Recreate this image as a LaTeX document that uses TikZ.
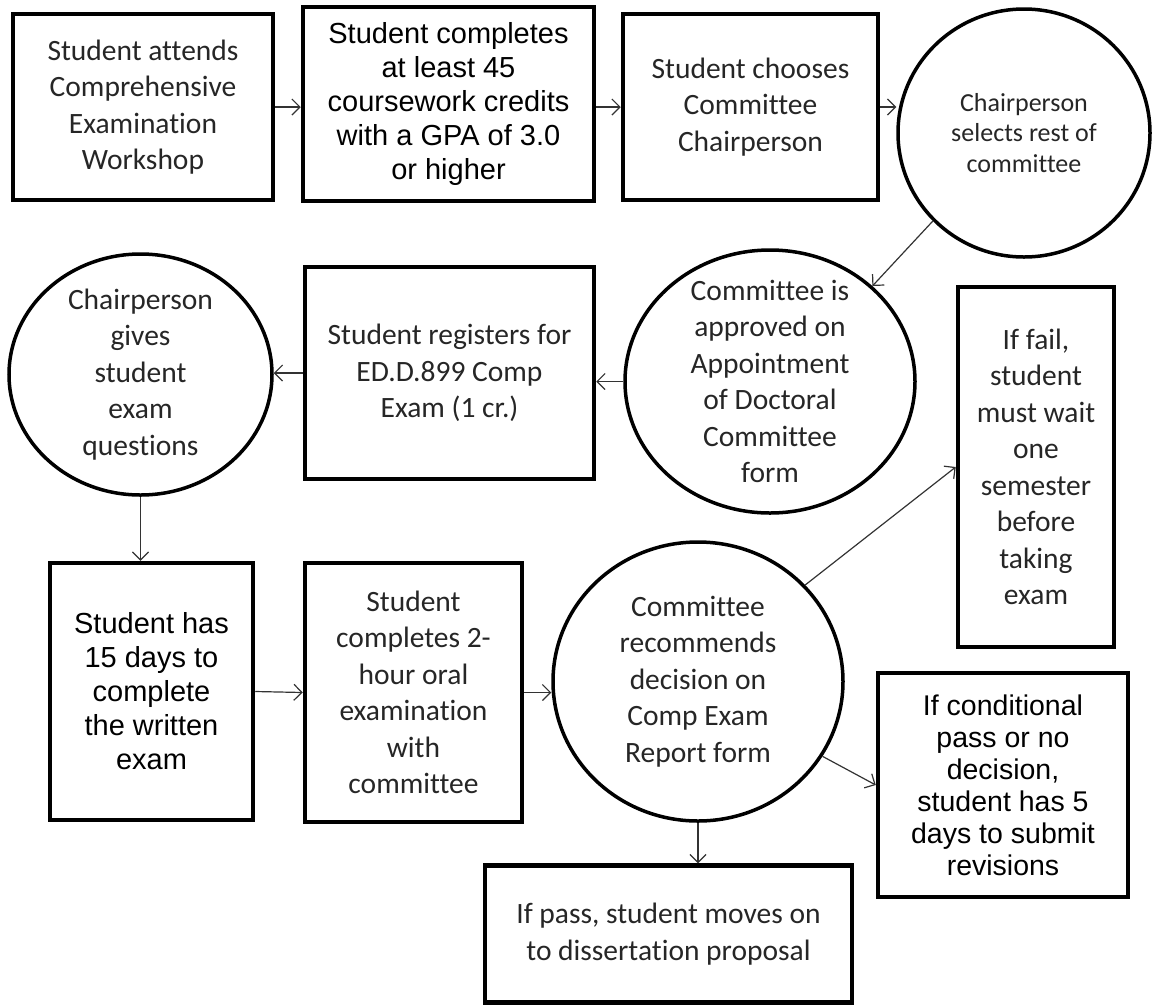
\documentclass[tikz,border=0pt]{standalone}
\usepackage{fontspec}
\setmainfont{Carlito}[Ligatures={NoCommon}]
\newfontfamily\arialfont{Liberation Sans}
\usetikzlibrary{shapes.geometric,arrows.meta}

\newcommand{\calfont}{\fontsize{29.5}{36.5}\selectfont}
\newcommand{\smallcal}{\fontsize{26}{30.5}\selectfont}
\newcommand{\arifont}{\arialfont\fontsize{29}{34}\selectfont}

\begin{document}
\begin{tikzpicture}
    [x=1pt, y=-1pt,
    every node/.style={align=center, font=\calfont, text=black!85},
    box/.style={draw=black, line width=4.5pt, inner sep=2pt},
    bold box/.style={box, font=\arifont, text=black},
    bubble/.style={draw=black, ellipse, line width=3.5pt, inner sep=0pt},
    flow/.style={-{Straight Barb[length=8pt,width=16pt]}, line width=1.2pt, black!80}
    ]
    \useasboundingbox (0,0) rectangle (1152,1005);

    % first row
    \node (attend) [box, minimum width=260, minimum height=186] at (143,107)
        {Student attends\\Comprehensive\\Examination\\Workshop};
    \node (credits) [bold box, minimum width=291, minimum height=194] at (448.5,104)
        {Student completes\\at least 45\\coursework credits\\with a GPA of 3.0\\or higher};
    \node (choose) [box, minimum width=255, minimum height=186] at (750.5,107)
        {Student chooses\\Committee\\Chairperson};
    \node (select) [bubble, minimum width=252, minimum height=248] at (1024,133)
        [label={[font=\smallcal]center:{Chairperson\\selects rest of\\committee}}] {};

    % second row
    \node (approve) [bubble, minimum width=290, minimum height=263] at (770,381.5)
        [label={center:{Committee is\\approved on\\Appointment\\of Doctoral\\Committee\\form}}] {};
    \node (register) [box, minimum width=289, minimum height=212] at (449.5,373)
        {Student registers for\\ED.D.899 Comp\\Exam (1 cr.)};
    \node (questions) [bubble, minimum width=263, minimum height=241] at (140.5,374.5)
        [label={center:{Chairperson\\gives\\student\\exam\\questions}}] {};
    \node (fail) [box, minimum width=156, minimum height=360] at (1036,467)
        {If fail,\\student\\must wait\\one\\semester\\before\\taking\\exam};

    % third row
    \node (written) [bold box, minimum width=203, minimum height=257] at (151.5,691.5)
        {Student has\\15 days to\\complete\\the written\\exam};
    \node (oral) [box, minimum width=217, minimum height=259] at (413.5,692.5)
        {Student\\completes 2-\\hour oral\\examination\\with\\committee};
    \node (decide) [bubble, minimum width=290, minimum height=279] at (698,681.5)
        [label={center:{Committee\\recommends\\decision on\\Comp Exam\\Report form}}] {};
    \node (revise) [bold box, font=\arialfont\fontsize{28.5}{32}\selectfont,
        minimum width=250, minimum height=224] at (1003,785)
        {If conditional\\pass or no\\decision,\\student has 5\\days to submit\\revisions};
    \node (pass) [box, minimum width=367, minimum height=137] at (668.5,934)
        {If pass, student moves on\\to dissertation proposal};

    % connectors
    \draw[flow] (attend.east) -- (attend.east -| credits.west);
    \draw[flow] (credits.east |- choose.west) -- (choose.west);
    \draw[flow] (choose.east) -- (choose.east -| select.west);
    \draw[flow] (select.224) -- (approve.43);
    \draw[flow] (approve.west) -- (approve.west -| register.east);
    \draw[flow] (register.west) -- (register.west -| questions.east);
    \draw[flow] (questions.south) -- (questions.south |- written.north);
    \draw[flow] (written.east) -- (oral.west);
    \draw[flow] (oral.east) -- (oral.east -| decide.west);
    \draw[flow] (decide.42) -- (fail.west);
    \draw[flow] (decide.-31) -- (revise.west);
    \draw[flow] (decide.south) -- (decide.south |- pass.north);
\end{tikzpicture}
\end{document}
